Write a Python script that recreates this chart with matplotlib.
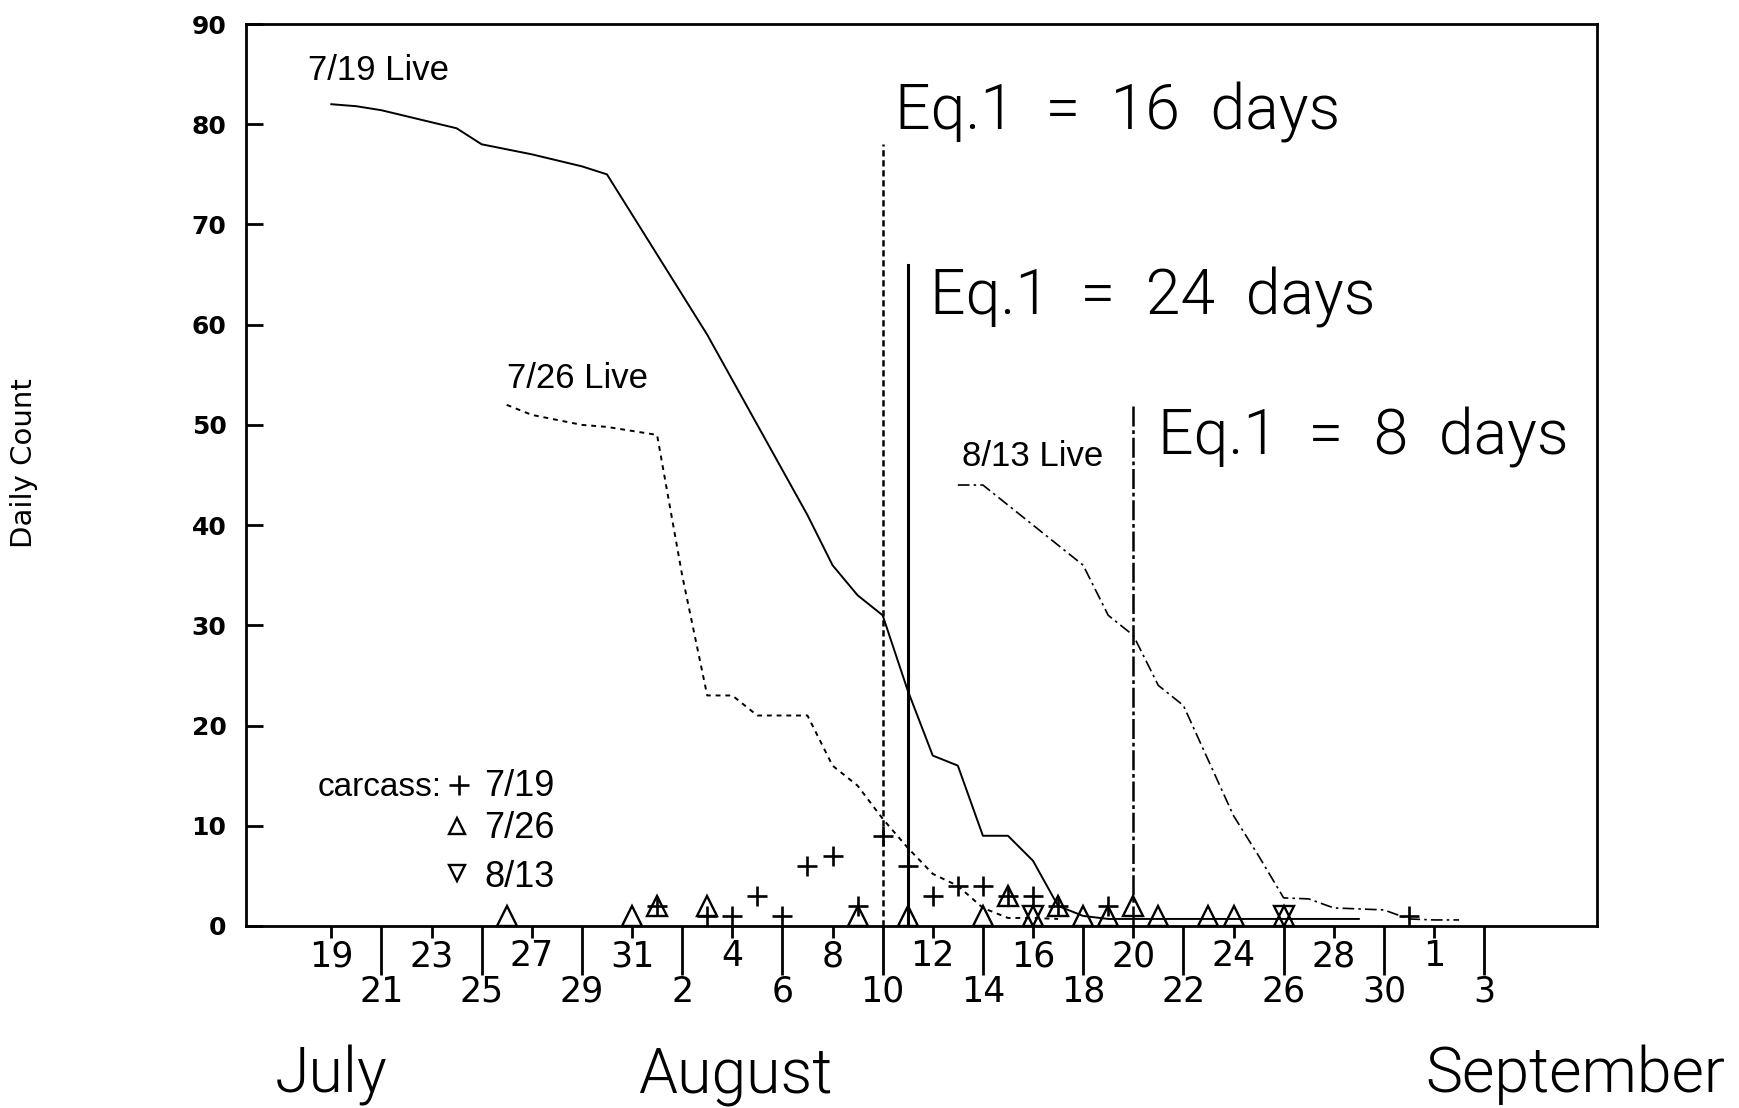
import matplotlib
matplotlib.use("Agg")
import matplotlib.pyplot as plt
from matplotlib import font_manager

# day 0 = July 19; Aug 1 = day 13; Sep 1 = day 44
TICK_DAYS = list(range(0, 47, 2))
TICK_LABELS = ["19", "21", "23", "25", "27", "29", "31",
               "2", "4", "6", "8", "10", "12", "14", "16", "18", "20",
               "22", "24", "26", "28", "30", "1", "3"]
MONTHS = ["July", "August", "September"]

# live counts per cohort
LIVE_0719_DAY = list(range(0, 42))
LIVE_0719 = [82, 81.8, 81.4, 80.8, 80.2, 79.6, 78, 77.5, 77, 76.4, 75.8, 75,
             71, 67, 63, 59, 54.5, 50, 45.5, 41, 36, 33, 31, 23.5, 17, 16,
             9, 9, 6.5, 2, 1, 0.7, 0.7, 0.7, 0.7, 0.7, 0.7, 0.7, 0.7, 0.7,
             0.7, 0.7]
LIVE_0726_DAY = list(range(7, 30))
LIVE_0726 = [52, 51, 50.5, 50, 49.8, 49.4, 49, 35, 23, 23, 21, 21, 21, 16,
             14, 10.7, 7.8, 5.2, 4, 1.8, 0.8, 0.8, 0.7]
LIVE_0813_DAY = list(range(25, 46))
LIVE_0813 = [44, 44, 42, 40, 38, 36, 31, 29, 24, 22, 16.5, 11, 7, 2.8, 2.7,
             1.8, 1.7, 1.6, 0.7, 0.6, 0.6]

# carcass counts
CARC_0719_DAY = [13, 15, 16, 17, 18, 19, 20, 21, 22, 23, 24, 25, 26, 27, 28, 29, 31, 43]
CARC_0719 = [2, 1, 1, 3, 1, 6, 7, 2, 9, 6, 3, 4, 4, 3, 3, 2, 2, 1]
CARC_0726_DAY = [7, 12, 13, 15, 21, 23, 26, 27, 28, 29, 30, 31, 32, 33, 35, 36, 38]
CARC_0726 = [1, 1, 2, 2, 1, 1, 1, 3, 1, 2, 1, 1, 2, 1, 1, 1, 1]
CARC_0813_DAY = [28, 38]
CARC_0813 = [1, 1]

# Eq.1 markers
EQ_DAY = [22, 23, 32]
EQ_TOP = [78, 66, 52]
EQ_LABELS = ["Eq.1  =  16  days", "Eq.1  =  24  days", "Eq.1  =  8  days"]

LIVE_LABELS = ["7/19 Live", "7/26 Live", "8/13 Live"]


def _narrow_font() -> str:
    names = {f.name for f in font_manager.fontManager.ttflist}
    return "Liberation Sans Narrow" if "Liberation Sans Narrow" in names else "DejaVu Sans"


def _light_font():
    for name in ("Roboto", "Lato", "Open Sans", "Inter", "Noto Sans"):
        for f in font_manager.fontManager.ttflist:
            if f.name == name and isinstance(f.weight, int) and f.weight <= 300 and f.style == "normal":
                return name, 300
    return "DejaVu Sans", "normal"


NARROW = _narrow_font()
LIGHT, LIGHT_W = _light_font()
PLAIN = "Liberation Sans"

fig = plt.figure(figsize=(17.39, 11.08), dpi=100)
ax = fig.add_axes([0.1415, 0.1643, 0.7768, 0.814])

ax.plot(LIVE_0719_DAY, LIVE_0719, color="k", lw=1.4)
ax.plot(LIVE_0726_DAY, LIVE_0726, color="k", lw=1.4, dashes=(2.5, 2.5))
ax.plot(LIVE_0813_DAY, LIVE_0813, color="k", lw=1.2, dashes=(7, 2.5, 1.5, 2.5))

vstyles = [dict(lw=1.8, dashes=(2.5, 1.5)), dict(lw=2.2), dict(lw=1.8, dashes=(8, 1.5, 1.5, 1.5))]
for d, top, st in zip(EQ_DAY, EQ_TOP, vstyles):
    ax.plot([d, d], [0, top], color="k", **st)

mk = dict(ls="none", color="k", clip_on=False, zorder=5)
ax.plot(CARC_0719_DAY, CARC_0719, marker="+", ms=15, mew=1.9, **mk)
ax.plot(CARC_0726_DAY, CARC_0726, marker="^", ms=14, mfc="none", mew=1.7, **mk)
ax.plot(CARC_0813_DAY, CARC_0813, marker="v", ms=14, mfc="none", mew=1.7, **mk)

# annotations
eq_pos = [(22.5, 79.5), (23.9, 61.0), (33.0, 47.0)]
for (x, y), txt in zip(eq_pos, EQ_LABELS):
    ax.text(x, y, txt, fontsize=45, family=LIGHT, weight=LIGHT_W, va="baseline", ha="left")

live_pos = [(-0.94, 84.4), (7.0, 53.7), (25.17, 45.9)]
for (x, y), txt in zip(live_pos, LIVE_LABELS):
    ax.text(x, y, txt, fontsize=25, family=PLAIN, va="baseline", ha="left")

# legend drawn by hand, as in the original
ax.text(-0.54, 12.97, "carcass:", fontsize=24, family=PLAIN, va="baseline")
ax.plot([5.1], [14.1], marker="+", ms=15, mew=1.9, **mk)
ax.plot([5.0], [10.0], marker="^", ms=12, mfc="none", mew=1.7, **mk)
ax.plot([5.0], [5.3], marker="v", ms=12, mfc="none", mew=1.7, **mk)
for y, txt in zip([12.97, 8.8, 3.9], ["7/19", "7/26", "8/13"]):
    ax.text(6.1, y, txt, fontsize=26, family=PLAIN, va="baseline")

ax.set_xlim(-3.4, 50.5)
ax.set_ylim(0, 90)

ax.set_xticks(TICK_DAYS[0::2], labels=TICK_LABELS[0::2], family=NARROW, fontsize=25)
ax.set_xticks(TICK_DAYS[1::2], labels=TICK_LABELS[1::2], minor=True, family=NARROW, fontsize=25)
ax.tick_params(axis="x", which="major", direction="out", length=8.5, width=2, pad=1)
ax.tick_params(axis="x", which="minor", direction="out", length=35, width=2, pad=0)

ax.set_yticks(range(0, 91, 10))
ax.tick_params(axis="y", direction="in", length=12, width=2, pad=14, labelsize=18)
for lbl in ax.get_yticklabels():
    lbl.set_fontweight("bold")

for sp in ax.spines.values():
    sp.set_linewidth(2)

fig.text(0.0138, 0.582, "Daily Count", rotation=90, fontsize=21, family=NARROW,
         ha="center", va="center")
month_x = [0.158, 0.367, 0.8195]
for x, m in zip(month_x, MONTHS):
    fig.text(x, 0.0144, m, fontsize=45, family=LIGHT, weight=LIGHT_W, va="baseline", ha="left")

fig.savefig("out.png", dpi=100)
